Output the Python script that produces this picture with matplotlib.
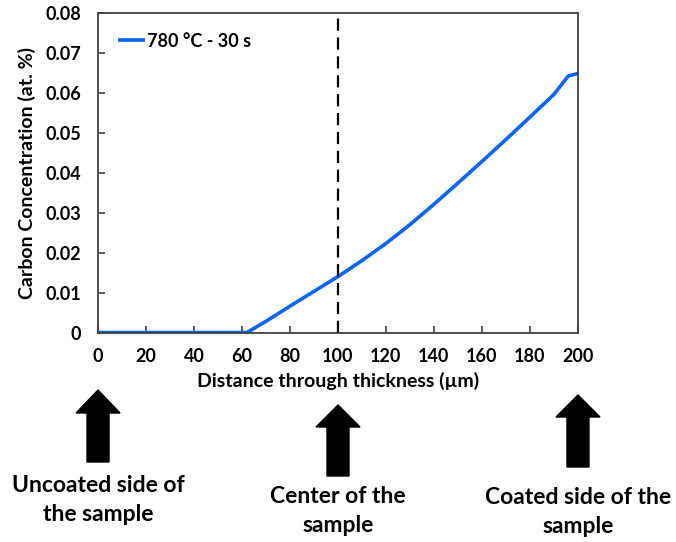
import matplotlib.pyplot as plt
import matplotlib.transforms as mtransforms
from matplotlib.patches import Polygon

# carbon profile
distance = [0, 20, 40, 60, 62, 70, 80, 90, 100, 110, 120, 130, 140, 150,
            160, 170, 180, 190, 196, 200]
carbon = [0, 0, 0, 0, 0, 0.0028, 0.0066, 0.0103, 0.0140, 0.0180, 0.0223,
          0.0270, 0.0321, 0.0374, 0.0428, 0.0483, 0.0539, 0.0596, 0.0642,
          0.0648]
series_label = "780 °C - 30 s"

center_x = 100
arrow_x = [0, 100, 200]
arrow_labels = ["Uncoated side of\nthe sample", "Center of the\nsample",
                "Coated side of the\nsample"]

plt.rcParams["font.family"] = ["Lato", "DejaVu Sans"]
plt.rcParams["font.weight"] = "bold"

fig = plt.figure(figsize=(6.76, 5.42), dpi=100)
ax = fig.add_axes([0.145, 0.3865, 0.710, 0.590])

ax.plot(distance, carbon, color="#0A64FF", lw=2.6, label=series_label,
        solid_capstyle="butt")
ax.axvline(center_x, color="black", lw=1.6, ls=(0, (5.5, 3)))

ax.set_xlim(0, 200)
ax.set_ylim(0, 0.08)
ax.set_xticks(range(0, 201, 20))
ax.set_yticks([i / 100 for i in range(0, 9)])
ax.set_yticklabels(["0"] + [f"{i / 100:.2f}" for i in range(1, 9)])
ax.tick_params(direction="in", length=5, width=1.2, color="#404040",
               labelsize=13)
ax.tick_params(axis="x", pad=11)
ax.tick_params(axis="y", pad=12)
for s in ax.spines.values():
    s.set_color("#404040")
    s.set_linewidth(1.3)

ax.set_xlabel("Distance through thickness (µm)", fontsize=14,
              fontweight="bold", labelpad=5)
ax.set_ylabel("Carbon Concentration (at. %)", fontsize=14,
              fontweight="bold", labelpad=7)

ax.legend(loc="upper left", frameon=False, fontsize=13, handlelength=1.5,
          handletextpad=0.1, borderaxespad=0.7)

# arrows below the axis: x in data units, y in figure pixels (from top)
H = 542
arrow_geom = [(390, 413, 462), (405, 427, 476), (395, 417, 467)]
text_y = [475, 486, 487]
head_w = 22
shaft_w = 11
for xv, (top, base, bot), ty, lab in zip(arrow_x, arrow_geom, text_y,
                                         arrow_labels):
    cx = ax.transData.transform((xv, 0))[0]
    pts = [(cx, H - top), (cx + head_w, H - base), (cx + shaft_w, H - base),
           (cx + shaft_w, H - bot), (cx - shaft_w, H - bot),
           (cx - shaft_w, H - base), (cx - head_w, H - base)]
    poly = Polygon(pts, closed=True, facecolor="black", edgecolor="black",
                   transform=mtransforms.IdentityTransform(), clip_on=False)
    fig.add_artist(poly)
    fig.text(cx / 676, (H - ty) / H, lab, ha="center", va="top",
             fontsize=16.5, fontweight="bold", linespacing=1.45,
             transform=fig.transFigure)

fig.savefig("out.png", dpi=100)
